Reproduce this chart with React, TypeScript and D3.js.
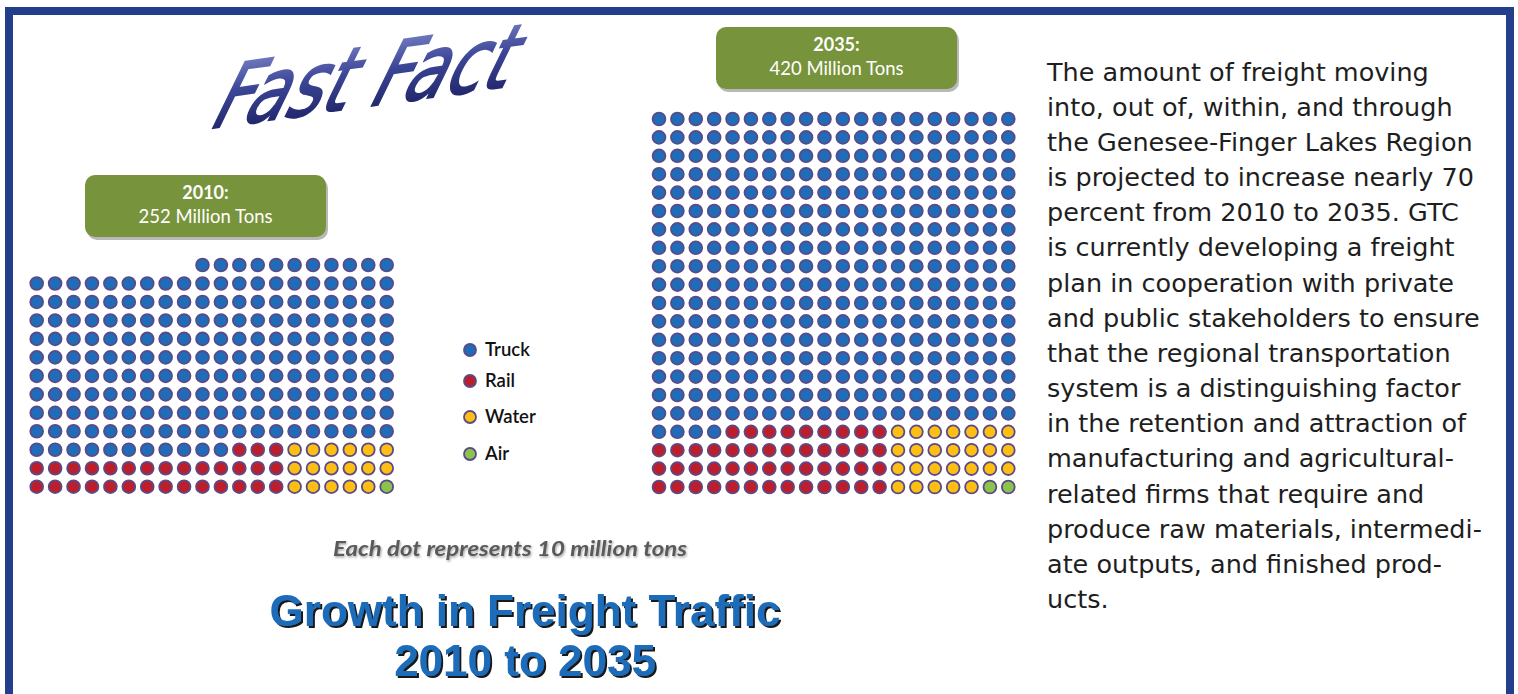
import React from "react";
import * as d3 from "d3";

// ---- data ----
const modes = ["Truck", "Rail", "Water", "Air"];
const modeColors = ["#1f6cb9", "#bd1e2c", "#fdbf14", "#8cc34c"];
// dots per row, [truck, rail, water, air], rows right-aligned, top to bottom
const rows2010 = [
  [11, 0, 0, 0],
  [20, 0, 0, 0], [20, 0, 0, 0], [20, 0, 0, 0], [20, 0, 0, 0], [20, 0, 0, 0],
  [20, 0, 0, 0], [20, 0, 0, 0], [20, 0, 0, 0], [20, 0, 0, 0],
  [11, 3, 6, 0],
  [0, 14, 6, 0],
  [0, 14, 5, 1],
];
const rows2035 = [
  [20, 0, 0, 0], [20, 0, 0, 0], [20, 0, 0, 0], [20, 0, 0, 0], [20, 0, 0, 0],
  [20, 0, 0, 0], [20, 0, 0, 0], [20, 0, 0, 0], [20, 0, 0, 0], [20, 0, 0, 0],
  [20, 0, 0, 0], [20, 0, 0, 0], [20, 0, 0, 0], [20, 0, 0, 0], [20, 0, 0, 0],
  [20, 0, 0, 0], [20, 0, 0, 0],
  [4, 9, 7, 0],
  [0, 13, 7, 0],
  [0, 13, 7, 0],
  [0, 13, 5, 2],
];
const columnsPerRow = 20;
const labels2010 = ["2010:", "252 Million Tons"];
const labels2035 = ["2035:", "420 Million Tons"];
const paragraph = [
  "The amount of freight moving",
  "into, out of, within, and through",
  "the Genesee-Finger Lakes Region",
  "is projected to increase nearly 70",
  "percent from 2010 to 2035. GTC",
  "is currently developing a freight",
  "plan in cooperation with private",
  "and public stakeholders to ensure",
  "that the regional transportation",
  "system is a distinguishing factor",
  "in the retention and attraction of",
  "manufacturing and agricultural-",
  "related firms that require and",
  "produce raw materials, intermedi-",
  "ate outputs, and finished prod-",
  "ucts.",
];
const titleLines = ["Growth in Freight Traffic", "2010 to 2035"];
const noteText = "Each dot represents 10 million tons";
const headline = "Fast Fact";

type Dot = { row: number; col: number; mode: number };

function buildDots(rows: number[][]): Dot[] {
  const dots: Dot[] = [];
  rows.forEach((counts, r) => {
    const total = d3.sum(counts);
    let col = columnsPerRow - total;
    counts.forEach((n, m) => {
      for (let i = 0; i < n; i++) dots.push({ row: r, col: col++, mode: m });
    });
  });
  return dots;
}

const STROKE = "#5b4a87";
const CAL = "Lato, 'Open Sans', sans-serif";

function DotGrid({ rows, x0, x1, y0, y1 }: { rows: number[][]; x0: number; x1: number; y0: number; y1: number }) {
  const x = d3.scaleLinear().domain([0, columnsPerRow - 1]).range([x0, x1]);
  const y = d3.scaleLinear().domain([0, rows.length - 1]).range([y0, y1]);
  const dots = buildDots(rows);
  return (
    <g>
      {dots.map((d, i) => (
        <circle key={i} cx={x(d.col)} cy={y(d.row)} r={6.4} fill={modeColors[d.mode]} stroke={STROKE} strokeWidth={1.8} />
      ))}
    </g>
  );
}

function LabelBox({ x, y, w, h, lines }: { x: number; y: number; w: number; h: number; lines: string[] }) {
  return (
    <g>
      <rect x={x + 2} y={y + 3} width={w} height={h} rx={10} fill="#9a9a9a" opacity={0.7} />
      <rect x={x} y={y} width={w} height={h} rx={10} fill="#77933c" />
      <text x={x + w / 2} y={y + 24} textAnchor="middle" fontFamily={CAL} fontWeight={700} fontSize={18} fill="#fff">{lines[0]}</text>
      <text x={x + w / 2} y={y + 48} textAnchor="middle" fontFamily={CAL} fontSize={18.5} fill="#fff">{lines[1]}</text>
    </g>
  );
}

export default function App() {
  const legendY = d3.scalePoint<string>().domain(modes).range([350, 454]);
  const legendYs = [350, 381, 417, 454];
  return (
    <svg width={1518} height={694} style={{ position: "absolute", left: 0, top: 0, background: "#fff" }}>
      <defs>
        <linearGradient id="ffGrad" x1="0" y1="0" x2="0" y2="1">
          <stop offset="0" stopColor="#8590cf" />
          <stop offset="0.45" stopColor="#3b4596" />
          <stop offset="1" stopColor="#161a58" />
        </linearGradient>
        <filter id="ts" x="-5%" y="-5%" width="110%" height="120%">
          <feDropShadow dx="2" dy="2" stdDeviation="0.6" floodColor="#000" floodOpacity="0.9" />
        </filter>
        <filter id="ts2" x="-5%" y="-20%" width="110%" height="150%">
          <feDropShadow dx="1" dy="1.5" stdDeviation="1" floodColor="#000" floodOpacity="0.35" />
        </filter>
      </defs>
      {/* frame */}
      <path d="M9,694 L9,11 L1510,11 L1510,694" fill="none" stroke="#233e8b" strokeWidth={8} />

      {/* headline */}
      <text
        transform="translate(206,129) rotate(-8) skewX(-34) scale(0.82,1)"
        fontFamily="'DejaVu Sans', sans-serif"
        fontSize={84}
        fill="url(#ffGrad)"
        stroke="url(#ffGrad)"
        strokeWidth={1.8}
      >
        {headline}
      </text>

      <LabelBox x={85} y={175} w={241} h={62} lines={labels2010} />
      <LabelBox x={716} y={27} w={241} h={62} lines={labels2035} />

      <DotGrid rows={rows2010} x0={36.7} x1={386.7} y0={265} y1={486.7} />
      <DotGrid rows={rows2035} x0={659} x1={1008.3} y0={119} y1={487} />

      {/* legend */}
      {modes.map((m, i) => (
        <g key={m} transform={`translate(470,${legendYs[i] ?? legendY(m)})`}>
          <circle r={6} fill={modeColors[i]} stroke={STROKE} strokeWidth={1.8} />
          <text x={15} y={6} fontFamily={CAL} fontWeight={600} fontSize={18.5} fill="#111">{m}</text>
        </g>
      ))}

      <text x={510} y={556} textAnchor="middle" fontFamily={CAL} fontStyle="italic" fontWeight={700} fontSize={21} textLength={354} lengthAdjust="spacingAndGlyphs" fill="#5a5a5a" filter="url(#ts2)">
        {noteText}
      </text>

      {titleLines.map((t, i) => (
        <text key={t} x={525} y={626 + i * 50} textAnchor="middle" fontFamily="'Liberation Sans', Arial, sans-serif" fontWeight={700} fontSize={44} fill="#1f6cb9" filter="url(#ts)">
          {t}
        </text>
      ))}

      {paragraph.map((line, i) => (
        <text key={i} x={1047} y={80.7 + i * 35.15} fontFamily="'DejaVu Sans', sans-serif" fontSize={25.5} fill="#1e1e1e">
          {line}
        </text>
      ))}
    </svg>
  );
}
